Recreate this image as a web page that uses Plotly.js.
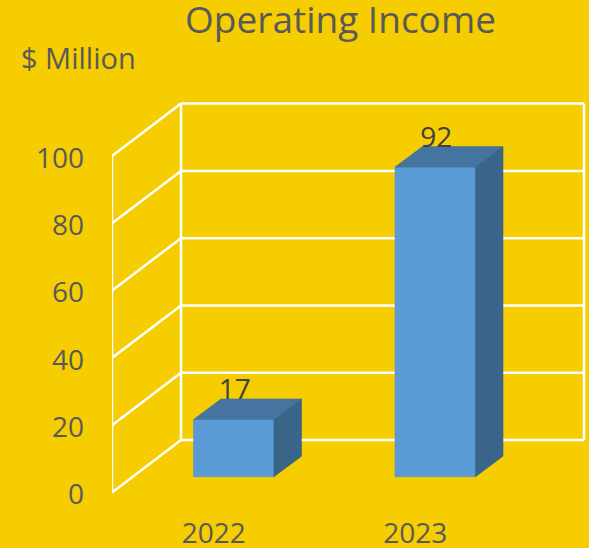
<!DOCTYPE html>
<html>
<head>
<meta charset="utf-8">
<script src="https://cdn.plot.ly/plotly-3.0.1.min.js"></script>
<style>html,body{margin:0;padding:0;background:#F5CD00;}#chart{width:589px;height:548px;}</style>
</head>
<body>
<div id="chart"></div>
<script>
const categories = ['2022', '2023'];
const values = [17, 92];
const yTicks = [0, 20, 40, 60, 80, 100];
const titleText = 'Operating Income';
const unitText = '$ Million';

const W = 589, H = 548;
const leftPx = 112, bottomPx = 510;
const pxPerCat = 201.5, pxPerVal = 3.365, zeroPx = 492.5;
const px = p => p / pxPerCat, pv = p => p / pxPerVal;
const xMax = px(W - leftPx);
const yMin = -(bottomPx - zeroPx) / pxPerVal, yMax = zeroPx / pxPerVal;

const floorDX = px(69), floorDY = pv(52.4);
const barW = px(80.5), barOffX = px(21), barOffY = pv(15.8), depthX = px(27.5), depthY = pv(20.5);
const wallW = px(403);
const white = '#FFFFFF', lw = 2.5;

function seg(x0, y0, x1, y1) {
  return {type:'line', xref:'x', yref:'y', x0, y0, x1, y1, layer:'below', line:{color:white, width:lw}};
}
const shapes = [];
yTicks.forEach(v => {
  shapes.push(seg(0, v, floorDX, v + floorDY));
  shapes.push(seg(floorDX, v + floorDY, floorDX + wallW, v + floorDY));
});
const topTick = yTicks[yTicks.length - 1];
shapes.push(seg(0, 0, 0, topTick));
shapes.push(seg(floorDX, floorDY, floorDX, topTick + floorDY));
shapes.push(seg(floorDX + wallW, floorDY, floorDX + wallW, topTick + floorDY));

const centers = categories.map((_, i) => i + 0.5);
const barX = centers.map(c => c + barOffX);

const traces = [{
  type:'bar', x:barX, y:values, base:values.map(() => barOffY), width:barW,
  marker:{color:'#5B9BD5', line:{color:'#5690C6', width:0.6}}, hoverinfo:'skip', showlegend:false
}];
function face(xs, ys, color) {
  return {type:'scatter', mode:'lines', x:xs, y:ys, fill:'toself', fillcolor:color,
    line:{color:color, width:0.6}, hoverinfo:'skip', showlegend:false};
}
values.forEach((v, i) => {
  const xl = barX[i] - barW/2, xr = barX[i] + barW/2;
  const yb = barOffY, yt = barOffY + v;
  traces.push(face([xl, xr, xr + depthX, xl + depthX, xl], [yt, yt, yt + depthY, yt + depthY, yt], '#44749F'));
  traces.push(face([xr, xr + depthX, xr + depthX, xr, xr], [yb, yb + depthY, yt + depthY, yt, yb], '#3A6488'));
});
traces.push({
  type:'scatter', mode:'text', x:barX.map(x => x + px(1)), y:values.map(v => v + barOffY + pv(27.5)),
  text:values.map(String), textposition:'middle center',
  textfont:{family:'"Open Sans", sans-serif', size:28, color:'#404040'},
  hoverinfo:'skip', showlegend:false, cliponaxis:false
});

const layout = {
  width:W, height:H, paper_bgcolor:'#F5CD00', plot_bgcolor:'rgba(0,0,0,0)',
  margin:{l:leftPx, r:0, t:0, b:H - bottomPx, pad:0},
  showlegend:false,
  font:{family:'"Open Sans", sans-serif', color:'#595959', size:28},
  title:{text:titleText, x:340.5/W, xanchor:'center', y:1 - 20/H, yanchor:'middle',
    font:{family:'"Open Sans", sans-serif', size:37, color:'#595959'}},
  xaxis:{type:'linear', range:[0, xMax], showgrid:false, zeroline:false, showline:false,
    tickmode:'array', tickvals:centers.map(c => c + px(1)), ticktext:categories, ticks:'',
    tickfont:{size:28, color:'#595959'}, ticklabelstandoff:4},
  yaxis:{range:[yMin, yMax], showgrid:false, zeroline:false, showline:false,
    tickmode:'array', tickvals:yTicks, ticktext:yTicks.map(String), ticks:'',
    tickfont:{size:28, color:'#595959'}, ticklabelstandoff:27, ticklabelshift:2},
  shapes,
  annotations:[{text:unitText, xref:'paper', yref:'paper', x:(78.5 - leftPx)/(W - leftPx), y:1 - 57/bottomPx,
    xanchor:'center', yanchor:'middle', showarrow:false,
    font:{family:'"Open Sans", sans-serif', size:29, color:'#595959'}}]
};
Plotly.newPlot('chart', traces, layout, {displayModeBar:false, staticPlot:true});
</script>
</body>
</html>
